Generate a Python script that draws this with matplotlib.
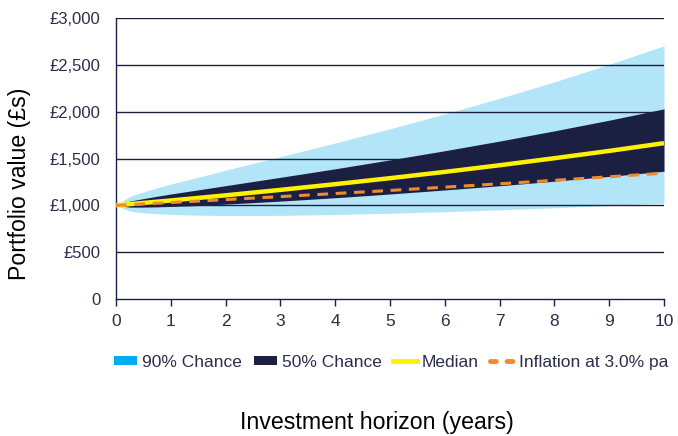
import matplotlib
matplotlib.use("Agg")
import matplotlib.pyplot as plt
from matplotlib.patches import Patch
from matplotlib.lines import Line2D

plt.rcParams['font.family'] = ['Liberation Sans', 'DejaVu Sans']

# Data (portfolio value in £)
years = [0, 0.25, 0.5, 0.75, 1, 1.5, 2, 3, 4, 5, 6, 7, 8, 9, 10]
upper_90 = [1000, 1094, 1143, 1187, 1227, 1300, 1375, 1519, 1666, 1817, 1976, 2142, 2318, 2505, 2703]
lower_90 = [1000, 938, 920, 910, 903, 895, 891, 893, 902, 916, 932, 952, 974, 998, 1025]
upper_50 = [1000, 1045, 1072, 1097, 1121, 1165, 1210, 1299, 1390, 1485, 1583, 1686, 1795, 1909, 2030]
lower_50 = [1000, 981, 981, 984, 988, 998, 1013, 1045, 1081, 1121, 1164, 1209, 1258, 1309, 1364]
median = [1000, 1013, 1026, 1039, 1052, 1079, 1107, 1165, 1226, 1290, 1357, 1428, 1503, 1581, 1664]
infl_years = [0, 1, 2, 3, 4, 5, 6, 7, 8, 9, 10]
inflation = [1000, 1030, 1061, 1093, 1126, 1159, 1194, 1230, 1267, 1305, 1344]

y_ticks = [0, 500, 1000, 1500, 2000, 2500, 3000]
y_labels = ['0', '£500', '£1,000', '£1,500', '£2,000', '£2,500', '£3,000']
x_ticks = list(range(0, 11))

light_blue = '#b3e5f8'
navy = '#1b2043'
yellow = '#fff200'
orange = '#f08a30'
tick_col = '#2a2e4a'

fig = plt.figure(figsize=(6.78, 4.36), dpi=100)
ax = fig.add_axes([116/678, 1-299/436, (664-116)/678, (299-18)/436])

ax.fill_between(years, lower_90, upper_90, color=light_blue, lw=0, zorder=1)
for v in y_ticks[1:]:
    ax.axhline(v, color=navy, lw=1.0, zorder=2)
ax.fill_between(years, lower_50, upper_50, color=navy, lw=0, zorder=3)
ax.plot(years, median, color=yellow, lw=3.2, zorder=4, solid_capstyle='butt')
ax.plot(infl_years, inflation, color=orange, lw=2.2, ls=(0, (3.5, 2.5)), zorder=5)

ax.set_xlim(0, 10)
ax.set_ylim(0, 3000)
ax.set_yticks(y_ticks)
ax.set_yticklabels(y_labels)
ax.set_xticks(x_ticks)
ax.tick_params(axis='y', length=0, pad=11, labelsize=12, labelcolor=tick_col)
ax.tick_params(axis='x', length=5, width=1, color=navy, pad=6, labelsize=12.5, labelcolor=tick_col)
for s in ['top', 'right']:
    ax.spines[s].set_visible(False)
for s in ['left', 'bottom']:
    ax.spines[s].set_color(navy)
    ax.spines[s].set_linewidth(1.0)

fig.text(20/678, 1-184/436, 'Portfolio value (£s)', rotation=90, ha='center', va='center', fontsize=16.7, color='black')
fig.text(377/678, 1-422/436, 'Investment horizon (years)', ha='center', va='center', fontsize=16.7, color='black')

handles = [
    Patch(facecolor='#00aeef', edgecolor='none'),
    Patch(facecolor=navy, edgecolor='none'),
    Line2D([0], [0], color=yellow, lw=3.5),
    Line2D([0], [0], color=orange, lw=3.5, ls=(0, (1.2, 2.2)), dash_capstyle='round'),
]
labels = ['90% Chance', '50% Chance', 'Median', 'Inflation at 3.0% pa']
fig.legend(handles, labels, loc='center', bbox_to_anchor=(391/678, 1-362/436), ncol=4,
           frameon=False, fontsize=12.5, handlelength=1.35, handleheight=0.45, handletextpad=0.3,
           columnspacing=0.65, labelcolor=tick_col)

fig.savefig('out.png', dpi=100)
